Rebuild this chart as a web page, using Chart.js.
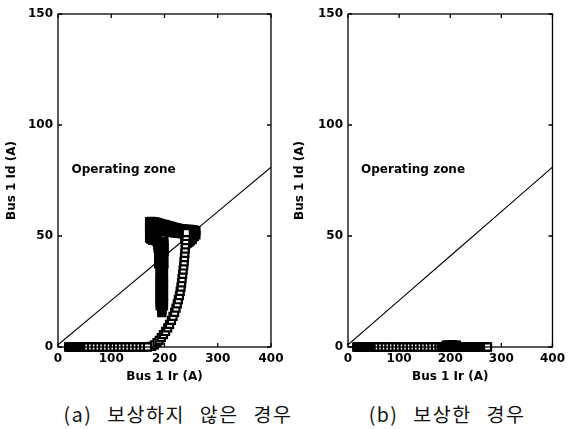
<!DOCTYPE html>
<html>
<head>
<meta charset="utf-8">
<script src="https://cdn.jsdelivr.net/npm/chart.js@4/dist/chart.umd.min.js"></script>
<style>
  html, body { margin:0; padding:0; background:#fff; }
  #wrap { position:relative; width:570px; height:429px; overflow:hidden; background:#fff; }
  canvas { position:absolute; top:0; }
  .cap { position:absolute; top:401px; font-family:"Noto Sans CJK KR", sans-serif; font-size:19.5px;
         letter-spacing:1.5px; word-spacing:9px; color:#111; white-space:nowrap; transform:translateX(-50%); line-height:26px; }
</style>
</head>
<body>
<div id="wrap">
  <canvas id="cA" width="290" height="390" style="left:0px"></canvas>
  <canvas id="cB" width="280" height="390" style="left:290px"></canvas>
  <div class="cap" style="left:178px">(a) 보상하지 않은 경우</div>
  <div class="cap" style="left:447px">(b) 보상한 경우</div>
</div>
<script>
// ---------- data ----------
const xTitle = 'Bus 1 Ir (A)';
const yTitle = 'Bus 1 Id (A)';
const zoneLabel = 'Operating zone';
const xTicks = [0, 100, 200, 300, 400];
const yTicks = [0, 50, 100, 150];

// boundary line (Id vs Ir)
const lineX = [0, 100, 200, 300, 400];
const lineY = [1, 21, 41, 61, 81];

// (a) uncompensated
const rowA_x = [20,22,24,26,28,30,32,34,36,38,40,42,44,46,48,50,52,54,56,63,70,77,84,91,98,105,112,119,126,133,140,147,154,161,168];
const rowA_y = [0,0,0,0,0,0,0,0,0,0,0,0,0,0,0,0,0,0,0,0,0,0,0,0,0,0,0,0,0,0,0,0,0,0,0];

const curveA_x = [176,181,186,190,194,198,202,206,209.5,213,216,219,221.5,224,226,228,229.5,231,232,233,234,235,236,236.8,237.5,238.2,238.8,239.4,240,240.5,241];
const curveA_y = [0.3,1,2,3,4.2,5.6,7,8.6,10.2,12,13.8,15.6,17.5,19.4,21.3,23.2,25.1,27,28.9,30.8,32.7,34.6,36.5,38.4,40.3,42.2,44.1,46,47.9,49.8,51.5];

const colA_x = [195,195,195,192,198,192,198,192,198,192,198,192,198,192,198,192,198,192,198,192,198,192,198,192,198,192,198,192,198,192,198,192,198,192,198,192,198,189,194,199,189,194,199,189,194,199,188,194,199,187,194,199,186,194,199];
const colA_y = [15.5,16.5,17.5,18.5,18.5,19.5,19.5,20.5,20.5,21.5,21.5,22.5,22.5,23.5,23.5,24.5,24.5,25.5,25.5,26.5,26.5,27.5,27.5,28.5,28.5,29.5,29.5,30.5,30.5,31.5,31.5,33,33,34.5,34.5,36,36,37.5,37.5,37.5,41.5,41.5,41.5,43,43,43,44.5,44.5,44.5,46,46,46,47.5,47.5,47.5];

const bandA_x  = [172,175,178,181,184,187,190,193,196,199,202,205,208,211,214,217,220,223,226,229,232,235,238,241,244,247,250,253,256,259];
const bandA_y1 = [56.5,56.6,56.5,56.4,56.2,56,55.8,55.6,55.4,55.2,55,54.8,54.6,54.4,54.2,54,53.8,53.6,53.4,53.3,53.2,53.1,53,53,53,53,52.9,52.8,52.6,52.3];
const bandA_y2 = [53.5,53.4,53.3,53.2,53.1,53,52.8,52.6,52.4,52.2,52,51.9,51.8,51.7,51.6,51.5,51.4,51.3,51.2,51.2,51.1,51,50.6,50.2,50,49.8,49.6,49.6,49.8,50.5];
const blobA_x = [238,241,244,247,250,253,256,240,243,246,249,252];
const blobA_y = [48.5,48.2,48.2,48.6,49,49.5,50,46.5,46.8,47.2,47.8,48.5];
const leftA_x = [172,175,178,181,184,187,172,175,178,181,184,172,175,178];
const leftA_y = [51.5,51,50.5,50,49.5,49,49,48.5,48,48,47.8,54.5,54.5,54.5];

// (b) compensated
const rowB_x = [17,19,21,23,25,27,29,31,33,35,37,39,41,43,45,47,49,51,53,55,57,59,66,73,80,87,94,101,108,115,122,129,136,143,150,157,164,171,178,183,185,187,189,191,193,195,197,199,201,203,205,207,209,211,213,215,217,219,221,223,225,227,229,231,233,235,237,239,241,243,245,247,249,251,253,255,257,259,261,263,265,267,269,271,273];
const rowB_y = [0,0,0,0,0,0,0,0,0,0,0,0,0,0,0,0,0,0,0,0,0,0,0,0,0,0,0,0,0,0,0,0,0,0,0,0,0,0,0,0,0,0,0,0,0,0,0,0,0,0,0,0,0,0,0,0,0,0,0,0,0,0,0,0,0,0,0,0,0,0,0,0,0,0,0,0,0,0,0,0,0,0,0,0,0];
const bumpB_x = [192,197,202,207,212];
const bumpB_y = [0.8,0.9,0.9,0.9,0.8];

// ---------- helpers ----------
const pts = (xs, ys) => xs.map((x, i) => ({x, y: ys[i]}));
const FONT = '"DejaVu Sans", sans-serif';

function markerSet(data, fill) {
  return {
    type: 'scatter', data, showLine: false, clip: false,
    pointStyle: 'rect', pointRadius: 5, pointHoverRadius: 5,
    pointBorderColor: '#000', pointBackgroundColor: fill || '#fff', pointBorderWidth: 2.2
  };
}
function lineSet() {
  return {
    type: 'line', data: pts(lineX, lineY), showLine: true, pointRadius: 0,
    borderColor: '#000', borderWidth: 1.1, fill: false, tension: 0
  };
}

const framePlugin = {
  id: 'frame',
  afterDraw(chart) {
    const {ctx, chartArea: a, scales: {x, y}} = chart;
    ctx.save();
    ctx.strokeStyle = '#000';
    ctx.lineWidth = 1.3;
    ctx.strokeRect(a.left, a.top, a.right - a.left, a.bottom - a.top);
    const tl = 4;
    ctx.beginPath();
    xTicks.forEach(v => {
      const px = x.getPixelForValue(v);
      ctx.moveTo(px, a.bottom); ctx.lineTo(px, a.bottom - tl);
      ctx.moveTo(px, a.top); ctx.lineTo(px, a.top + tl);
    });
    yTicks.forEach(v => {
      const py = y.getPixelForValue(v);
      ctx.moveTo(a.left, py); ctx.lineTo(a.left + tl, py);
      ctx.moveTo(a.right, py); ctx.lineTo(a.right - tl, py);
    });
    ctx.stroke();
    ctx.fillStyle = '#000';
    ctx.font = 'bold 12px ' + FONT;
    ctx.textAlign = 'left';
    ctx.textBaseline = 'middle';
    ctx.fillText(zoneLabel, x.getPixelForValue(25.5), y.getPixelForValue(80));
    ctx.restore();
  }
};

function makeChart(id, datasets, padRight, yTitlePad) {
  return new Chart(document.getElementById(id), {
    type: 'scatter',
    data: { datasets },
    plugins: [framePlugin],
    options: {
      responsive: false, animation: false,
      layout: { padding: { top: 14, right: padRight, left: 0, bottom: 0 } },
      plugins: { legend: { display: false }, tooltip: { enabled: false } },
      scales: {
        x: {
          type: 'linear', min: 0, max: 400,
          afterBuildTicks: s => { s.ticks = xTicks.map(v => ({value: v})); },
          afterFit: s => { s.height = 43; },
          grid: { display: false, drawTicks: false },
          border: { display: false },
          ticks: { color: '#000', padding: 5, maxRotation: 0, autoSkip: false,
                   font: { family: FONT, size: 12, weight: 'bold' } },
          title: { display: true, text: xTitle, color: '#000', padding: { top: 0, bottom: 6 },
                   font: { family: FONT, size: 12, weight: 'bold' } }
        },
        y: {
          type: 'linear', min: 0, max: 150,
          afterBuildTicks: s => { s.ticks = yTicks.map(v => ({value: v})); },
          afterFit: s => { s.width = 58; },
          grid: { display: false, drawTicks: false },
          border: { display: false },
          ticks: { color: '#000', padding: 5,
                   font: { family: FONT, size: 12, weight: 'bold' } },
          title: { display: true, text: yTitle, color: '#000', padding: { top: yTitlePad, bottom: 0 },
                   font: { family: FONT, size: 12, weight: 'bold' } }
        }
      }
    }
  });
}

makeChart('cA', [
  markerSet(pts(rowA_x, rowA_y)),
  markerSet(pts(curveA_x, curveA_y)),
  markerSet(pts(colA_x, colA_y), '#000'),
  markerSet(pts(leftA_x, leftA_y), '#000'),
  markerSet(pts(bandA_x, bandA_y2), '#000'),
  markerSet(pts(bandA_x, bandA_y1), '#000'),
  markerSet(pts(blobA_x, blobA_y), '#000'),
  lineSet()
], 19, 5);

makeChart('cB', [
  markerSet(pts(rowB_x, rowB_y)),
  markerSet(pts(bumpB_x, bumpB_y), '#000'),
  lineSet()
], 11, 3);
</script>
</body>
</html>
